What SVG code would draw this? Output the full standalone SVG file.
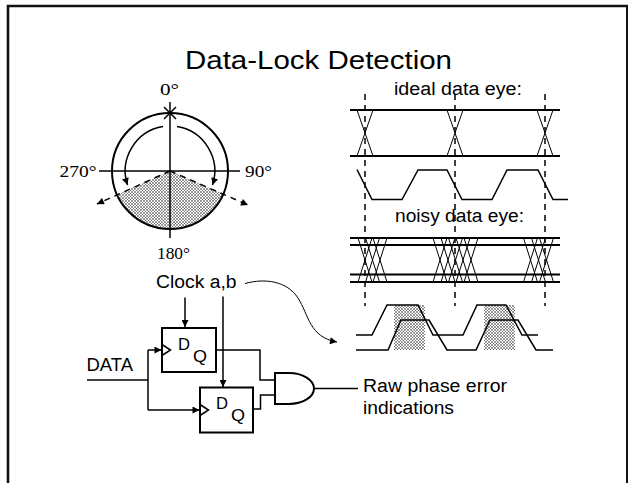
<svg xmlns="http://www.w3.org/2000/svg" width="628" height="483" viewBox="0 0 628 483">
<style>
.s{font-family:"Liberation Sans",Arial,sans-serif;fill:#000}
.r{font-family:"Liberation Serif","Times New Roman",serif;fill:#000}
.ln{stroke:#000;fill:none;stroke-width:1.5}
.th{stroke:#000;fill:none;stroke-width:2}
.tn{stroke:#000;fill:none;stroke-width:1}
.dash{stroke:#000;fill:none;stroke-width:1.5;stroke-dasharray:6 5}
</style>
<defs>
<pattern id="hatch" width="3" height="3" patternUnits="userSpaceOnUse">
<rect width="3" height="3" fill="#fff"/>
<path d="M0,0 L3,3 M3,0 L0,3" stroke="#444" stroke-width="0.55"/>
</pattern>
<marker id="ah" viewBox="0 0 10 10" refX="10" refY="5" markerWidth="10" markerHeight="7" markerUnits="userSpaceOnUse" orient="auto">
<path d="M0,0 L10,5 L0,10 z" fill="#000"/>
</marker>
</defs>
<rect width="628" height="483" fill="#fff"/>
<g id="frame">
<path d="M8,483 V6 H628" stroke="#111" stroke-width="2.6" fill="none"/>
<line x1="627" y1="6" x2="627" y2="483" stroke="#111" stroke-width="2"/>
</g>
<g id="title">
<text class="s" x="185" y="68.5" font-size="26" textLength="267" lengthAdjust="spacingAndGlyphs">Data-Lock Detection</text>
</g>
<g id="phase-circle">
<path d="M170,171 L117,194.6 A58,58 0 0 0 223.2,194.1 Z" fill="url(#hatch)" stroke="none"/>
<circle cx="170" cy="171" r="58" class="th" stroke-width="1.8"/>
<line x1="170" y1="102" x2="170" y2="238" class="ln"/>
<line x1="99" y1="171" x2="240" y2="171" class="ln"/>
<path d="M164,107 L176,119 M164,119 L176,107" class="ln"/>
<path d="M163,126.6 A45,45 0 0 0 127.5,185" class="ln" marker-end="url(#ah)"/>
<path d="M177,126.6 A45,45 0 0 1 212.5,185" class="ln" marker-end="url(#ah)"/>
<path d="M170,171 L97,204" class="dash" stroke-dasharray="5 3" marker-end="url(#ah)"/>
<path d="M170,171 L248,205" class="dash" stroke-dasharray="5 3" marker-end="url(#ah)"/>
<text class="r" x="160" y="95" font-size="17" textLength="19" lengthAdjust="spacingAndGlyphs">0°</text>
<text class="r" x="59.5" y="176.5" font-size="17" textLength="37" lengthAdjust="spacingAndGlyphs">270°</text>
<text class="r" x="245" y="176.5" font-size="17" textLength="27" lengthAdjust="spacingAndGlyphs">90°</text>
<text class="r" x="157" y="259" font-size="17" textLength="33" lengthAdjust="spacingAndGlyphs">180°</text>
</g>
<g id="ideal-eye">
<text class="s" x="394" y="95" font-size="18" textLength="128" lengthAdjust="spacingAndGlyphs">ideal data eye:</text>
<line x1="350" y1="110" x2="560" y2="110" class="th"/>
<line x1="350" y1="156" x2="560" y2="156" class="th"/>
<path d="M357,110 L373,156 M373,110 L357,156 M447,110 L463,156 M463,110 L447,156 M537,110 L553,156 M553,110 L537,156" class="tn"/>
<polyline points="357,169.5 372,199.5 402,199.5 418,170 447,170 462,199.5 492,199.5 507,170 538,170 553,199.5 568,199.5" class="ln"/>
</g>
<g id="noisy-eye">
<text class="s" x="395" y="221.5" font-size="18" textLength="129" lengthAdjust="spacingAndGlyphs">noisy data eye:</text>
<line x1="350" y1="238" x2="560" y2="238" class="th"/>
<line x1="350" y1="245" x2="560" y2="245" class="th"/>
<line x1="350" y1="274.5" x2="560" y2="274.5" class="th"/>
<line x1="350" y1="282" x2="560" y2="282" class="th"/>
<path d="M358,238 L372,282 M372,238 L358,282 M365.5,238 L379.5,282 M379.5,238 L365.5,282 M373,238 L387,282 M387,238 L373,282
M433,238 L447,282 M447,238 L433,282 M441,238 L455,282 M455,238 L441,282 M448.5,238 L462.5,282 M462.5,238 L448.5,282 M456,238 L470,282 M470,238 L456,282 M464,238 L478,282 M478,238 L464,282
M523.5,238 L537.5,282 M537.5,238 L523.5,282 M531.5,238 L545.5,282 M545.5,238 L531.5,282 M539.5,238 L553.5,282 M553.5,238 L539.5,282" class="tn"/>
</g>
<g id="sample-waves">
<rect x="394" y="305" width="31" height="45" fill="url(#hatch)"/>
<rect x="484" y="305" width="31" height="45" fill="url(#hatch)"/>
<polyline points="356,335 372,335 387,305 418,305 433,335 463,335 477,305 506,305 522,335 538,335" class="ln" stroke-width="1.8"/>
<polyline points="356,350 388,350 401,320 429,320 447,350 476,350 490,320 518,320 536,350 553,350" class="ln" stroke-width="1.8"/>
</g>
<g id="guides">
<line x1="365" y1="94" x2="365" y2="306" class="dash"/>
<line x1="455" y1="94" x2="455" y2="306" class="dash"/>
<line x1="545" y1="94" x2="545" y2="306" class="dash"/>
</g>
<g id="clock-label">
<text class="s" x="156" y="288.3" font-size="18" textLength="80.5" lengthAdjust="spacingAndGlyphs">Clock a,b</text>
</g>
<g id="data-label">
<text class="s" x="86.5" y="370.5" font-size="18" textLength="46.5" lengthAdjust="spacingAndGlyphs">DATA</text>
</g>
<g id="ff1">
<rect x="162" y="328" width="54" height="44" class="th"/>
<polyline points="162,344.5 170.5,350 162,355.5" class="ln"/>
<text class="s" x="178" y="350" font-size="16" textLength="12" lengthAdjust="spacingAndGlyphs">D</text>
<text class="s" x="193" y="362" font-size="16" textLength="14" lengthAdjust="spacingAndGlyphs">Q</text>
</g>
<g id="ff2">
<rect x="200" y="387.5" width="53" height="45" class="th"/>
<polyline points="200,404.5 208.5,410 200,415.5" class="ln"/>
<text class="s" x="216" y="409" font-size="16" textLength="12" lengthAdjust="spacingAndGlyphs">D</text>
<text class="s" x="231" y="421" font-size="16" textLength="14" lengthAdjust="spacingAndGlyphs">Q</text>
</g>
<g id="and-gate">
<path d="M275,373 H289 A25,15.5 0 0 1 289,404 H275 Z" class="th" fill="#fff"/>
</g>
<g id="output-label">
<text class="s" x="363" y="392" font-size="18" textLength="144" lengthAdjust="spacingAndGlyphs">Raw phase error</text>
<text class="s" x="363" y="413.5" font-size="18" textLength="91" lengthAdjust="spacingAndGlyphs">indications</text>
</g>
<g id="connectors">
<path d="M245,283.5 C265,278 287,281 298,298 C309,315 309,337 337,342" class="tn" stroke-width="1.2" marker-end="url(#ah)"/>
<line x1="185" y1="297.5" x2="185" y2="327" class="ln" stroke-width="1.8" marker-end="url(#ah)"/>
<line x1="223" y1="296.5" x2="223" y2="387" class="ln" stroke-width="1.8" marker-end="url(#ah)"/>
<line x1="87" y1="380" x2="148" y2="380" class="ln"/>
<line x1="148" y1="350" x2="148" y2="410" class="ln"/>
<line x1="148" y1="350" x2="161.5" y2="350" class="ln" marker-end="url(#ah)"/>
<line x1="148" y1="410" x2="199.5" y2="410" class="ln" marker-end="url(#ah)"/>
<polyline points="216,350 260,350 260,380 275,380" class="ln"/>
<polyline points="253,409 260.5,409 260.5,395 275,395" class="ln"/>
<line x1="314" y1="388.5" x2="358" y2="388.5" class="ln"/>
</g>
</svg>
